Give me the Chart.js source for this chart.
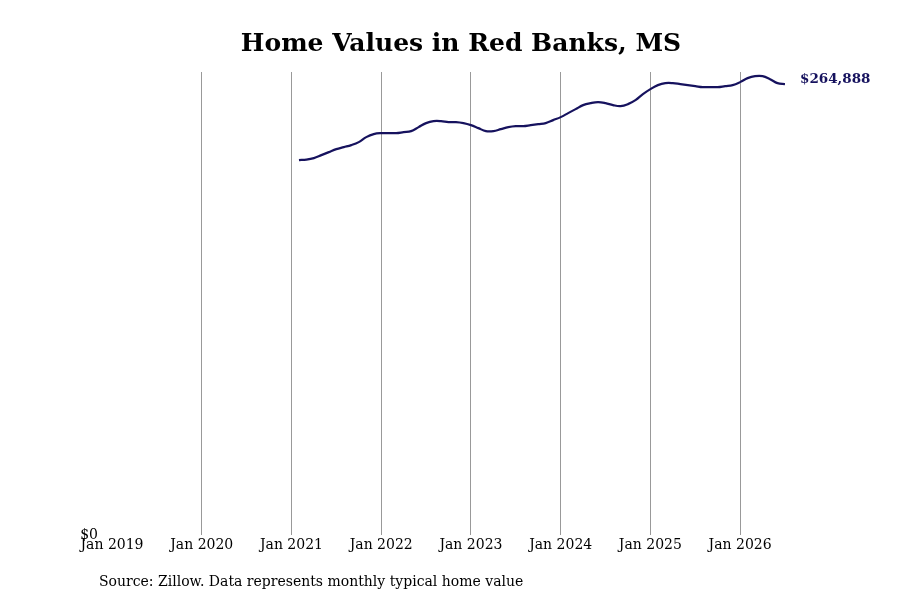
<!DOCTYPE html>
<html><head><meta charset="utf-8">
<script src="https://cdn.jsdelivr.net/npm/chart.js@4"></script>
<style>body{margin:0;background:#fff}</style></head>
<body><canvas id="c" width="900" height="600"></canvas>
<script>
const titleText = "Home Values in Red Banks, MS";
const sourceText = "Source: Zillow. Data represents monthly typical home value";
const startYear = 2019;
const firstMonthIndex = 25; // Feb 2021, months since Jan 2019
const values = [220240,220530,221410,223170,224940,226700,227870,229050,230810,233750,235510,
236090,236090,236090,236680,237270,239620,241970,243140,243140,242550,242550,241970,
240790,239030,237270,237270,238440,239620,240200,240200,240790,241380,241970,243730,
245490,247840,250190,252540,253710,254300,253710,252540,251950,253130,255480,259000,
261940,264290,265460,265460,264890,264290,263700,263110,263110,263110,263700,264290,
266050,268400,269570,269570,267810,265460,264888];
const xTicks = [0,12,24,36,48,60,72,84];
const lastLabel = "$264,888";
const color = "#16125e";
const pts = values.map((v,i)=>({x:firstMonthIndex+i,y:v}));
const serif = "'DejaVu Serif', serif";

const deco = {id:'deco', afterDraw(ch){
  const c=ch.ctx; c.save();
  c.fillStyle='#000'; c.font="bold 25px "+serif; c.textAlign='center'; c.textBaseline='middle';
  c.fillText(titleText,461,44);
  c.font="14px "+serif; c.textAlign='left'; c.fillText(sourceText,99,582);
  const m=ch.getDatasetMeta(0).data; const p=m[m.length-1];
  c.fillStyle=color; c.font="bold 13.5px "+serif; c.fillText(lastLabel,p.x+15,p.y-5);
  c.restore();
}};
new Chart(document.getElementById('c'),{
  type:'line',
  data:{datasets:[{data:pts,borderColor:color,borderWidth:2.2,pointRadius:0,tension:0.4,fill:false}]},
  options:{responsive:false,animation:false,
    layout:{padding:{top:72,right:115,bottom:35,left:0}},
    plugins:{legend:{display:false},title:{display:false},tooltip:{enabled:false}},
    scales:{
      x:{type:'linear',min:0,max:90,
        afterFit(s){s.height=30;},
        afterBuildTicks(s){s.ticks=xTicks.map(v=>({value:v}));},
        ticks:{autoSkip:false,maxRotation:0,color:'#000',font:{family:serif,size:14},padding:2,
          callback:v=>'Jan '+(startYear+v/12)},
        grid:{color:c=>c.tick&&c.tick.value===0?'rgba(0,0,0,0)':'#999',drawTicks:false,lineWidth:1},
        border:{display:false}},
      y:{min:0,max:272000,
        afterFit(s){s.width=112;},
        afterBuildTicks(s){s.ticks=[{value:0}];},
        ticks:{color:'#000',font:{family:serif,size:14},padding:6,callback:v=>'$'+v},
        grid:{display:false},border:{display:false}}
    }},
  plugins:[deco]
});
</script></body></html>
